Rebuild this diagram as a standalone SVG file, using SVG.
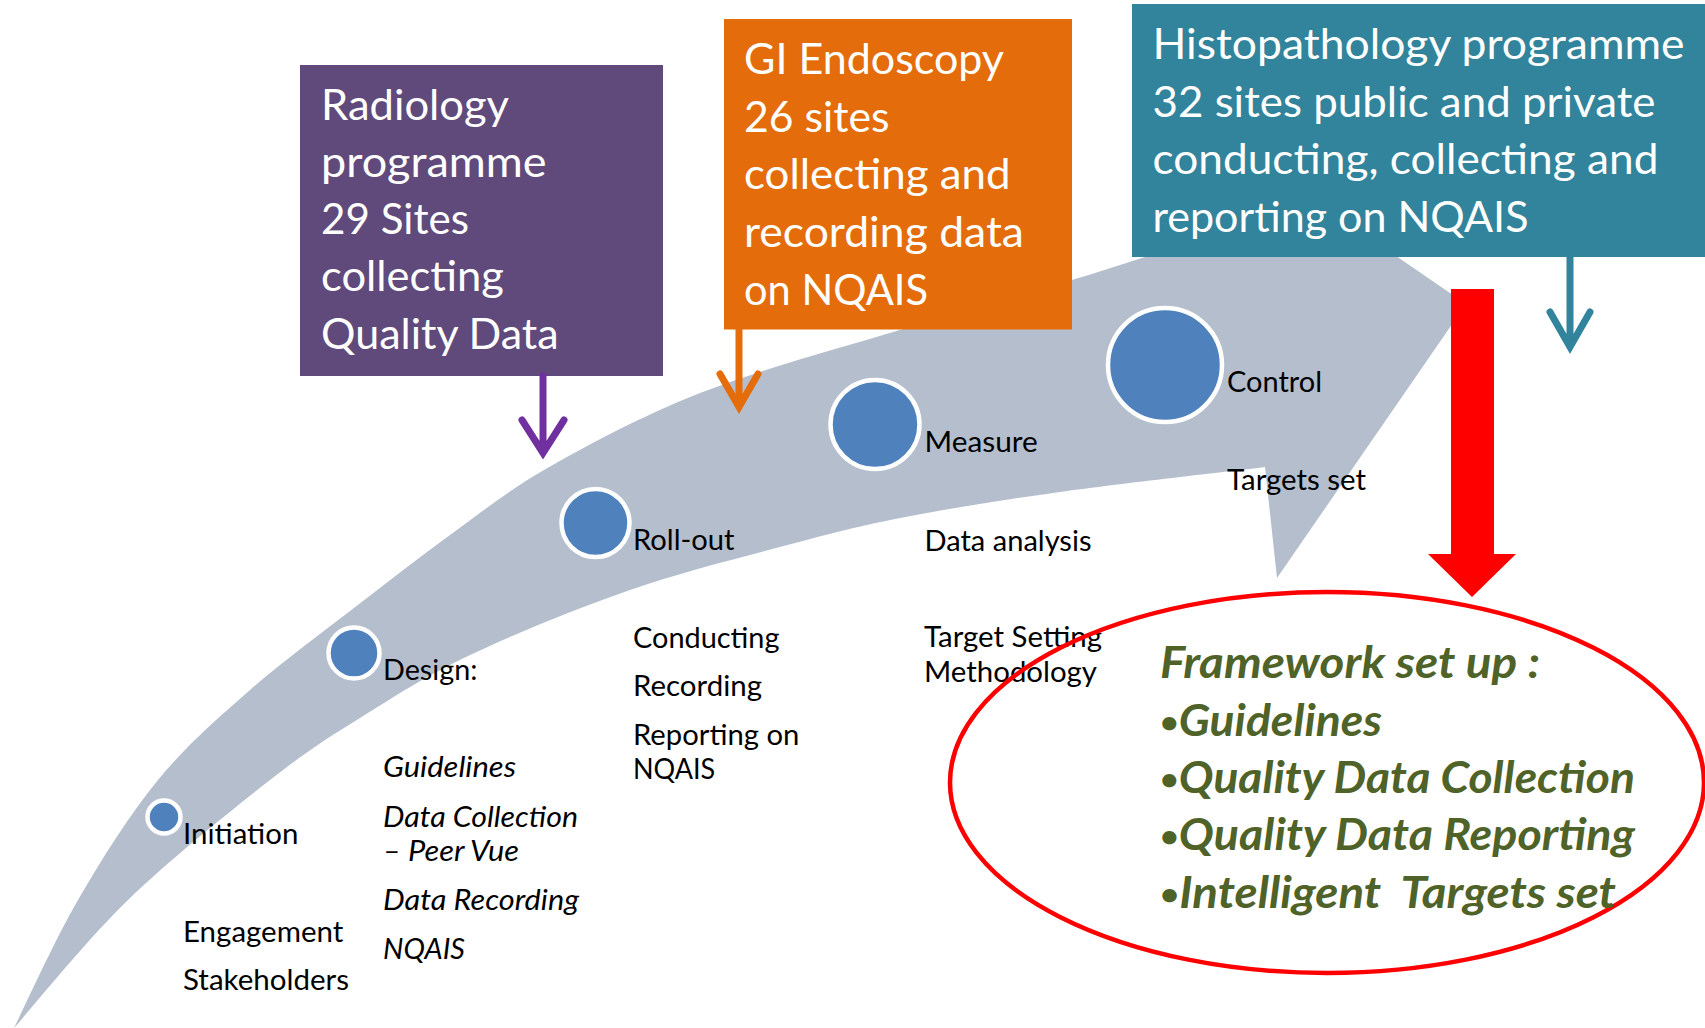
<svg xmlns="http://www.w3.org/2000/svg" width="1705" height="1028" viewBox="0 0 1705 1028">
<style>
.box{font-family:Lato,"Open Sans",sans-serif;font-size:42.3px;fill:#FFFFFF}
.lbl{font-family:Lato,"Open Sans",sans-serif;font-size:28.4px;fill:#000000}
.it{font-style:italic}
.fw{font-family:Lato,"Open Sans",sans-serif;font-size:43px;font-weight:bold;font-style:italic;fill:#4F6228}
.bul{font-size:30px}
.dot{fill:#4F81BD;stroke:#FFFFFF;stroke-width:4.5}
.open{fill:none;stroke-width:7;stroke-linecap:round;stroke-linejoin:miter}
</style>
<rect width="1705" height="1028" fill="#FFFFFF"/>
<g id="band">
<path fill="#B4BECC" d="M14,1028 C24.7,1006.7 54,941.3 78,900 C102,858.7 129.3,815 158,780 C186.7,745 217.3,718.7 250,690 C282.7,661.3 320.7,633.8 354,608 C387.3,582.2 418.3,558 450,535 C481.7,512 505.3,492.7 544,470 C585.7,446.3 640.7,416.3 700,393 C759.3,369.7 838,348.8 900,330 C962,311.2 1031.2,292.2 1072,280 C1112.8,267.8 1132.8,260.8 1145,257 L1230,228 L1300,190 L1466,304 L1277,578 L1265,467 C1230.8,471.2 1120.8,483.5 1060,492 C999.2,500.5 946.7,508.8 900,518 C853.3,527.2 825,535 780,547 C735,559 681.7,572 630,590 C578.3,608 515,633.7 470,655 C425,676.3 393.3,697.2 360,718 C326.7,738.8 308.7,749.7 270,780 C231.3,810.3 170.7,858.7 128,900 C85.3,941.3 33,1006.7 14,1028 Z"/>
</g>
<g id="initiation">
<circle class="dot" cx="164" cy="817" r="16.5"/>
<text class="lbl" x="183" y="844" textLength="115.4" lengthAdjust="spacingAndGlyphs">Initiation</text>
<text class="lbl" x="183" y="942" textLength="160.3" lengthAdjust="spacingAndGlyphs">Engagement</text>
<text class="lbl" x="183" y="990" textLength="166" lengthAdjust="spacingAndGlyphs">Stakeholders</text>
</g>
<g id="design">
<circle class="dot" cx="354" cy="653" r="25.5"/>
<text class="lbl" x="383" y="680" textLength="94.4" lengthAdjust="spacingAndGlyphs">Design:</text>
<text class="lbl it" x="383" y="777" textLength="133" lengthAdjust="spacingAndGlyphs">Guidelines</text>
<text class="lbl it" x="383" y="826.5" textLength="195" lengthAdjust="spacingAndGlyphs">Data Collection</text>
<text class="lbl it" x="383" y="860.5" textLength="136" lengthAdjust="spacingAndGlyphs">– Peer Vue</text>
<text class="lbl it" x="383" y="910" textLength="196" lengthAdjust="spacingAndGlyphs">Data Recording</text>
<text class="lbl it" x="383" y="959" textLength="82" lengthAdjust="spacingAndGlyphs">NQAIS</text>
</g>
<g id="rollout">
<circle class="dot" cx="595.5" cy="523" r="34"/>
<text class="lbl" x="633" y="550" textLength="101.5" lengthAdjust="spacingAndGlyphs">Roll-out</text>
<text class="lbl" x="633" y="647.5" textLength="146.5" lengthAdjust="spacingAndGlyphs">Conducting</text>
<text class="lbl" x="633" y="696" textLength="129" lengthAdjust="spacingAndGlyphs">Recording</text>
<text class="lbl" x="633" y="745" textLength="166.3" lengthAdjust="spacingAndGlyphs">Reporting on</text>
<text class="lbl" x="633" y="779" textLength="82.2" lengthAdjust="spacingAndGlyphs">NQAIS</text>
</g>
<g id="measure">
<circle class="dot" cx="875" cy="424.5" r="44.5"/>
<text class="lbl" x="924.5" y="452" textLength="113.2" lengthAdjust="spacingAndGlyphs">Measure</text>
<text class="lbl" x="924.5" y="550.5" textLength="167" lengthAdjust="spacingAndGlyphs">Data analysis</text>
<text class="lbl" x="924" y="647" textLength="178" lengthAdjust="spacingAndGlyphs">Target Setting</text>
<text class="lbl" x="924" y="682" textLength="173" lengthAdjust="spacingAndGlyphs">Methodology</text>
</g>
<g id="control">
<circle class="dot" cx="1165" cy="365" r="57"/>
<text class="lbl" x="1227" y="391.7" textLength="95" lengthAdjust="spacingAndGlyphs">Control</text>
<text class="lbl" x="1227" y="490" textLength="139" lengthAdjust="spacingAndGlyphs">Targets set</text>
</g>
<g id="radiology">
<rect x="300" y="65" width="363" height="311" fill="#604A7B"/>
<text class="box" x="321" y="120" textLength="188" lengthAdjust="spacingAndGlyphs">Radiology</text>
<text class="box" x="321" y="177" textLength="225.5" lengthAdjust="spacingAndGlyphs">programme</text>
<text class="box" x="321" y="234" textLength="148" lengthAdjust="spacingAndGlyphs">29 Sites</text>
<text class="box" x="321" y="291" textLength="183" lengthAdjust="spacingAndGlyphs">collecting</text>
<text class="box" x="321" y="349" textLength="237.7" lengthAdjust="spacingAndGlyphs">Quality Data</text>
</g>
<g id="gi-endoscopy">
<rect x="724" y="19" width="348" height="310.5" fill="#E46C0A"/>
<text class="box" x="744" y="74" textLength="260" lengthAdjust="spacingAndGlyphs">GI Endoscopy</text>
<text class="box" x="744" y="131.5" textLength="145.5" lengthAdjust="spacingAndGlyphs">26 sites</text>
<text class="box" x="744" y="189" textLength="266.5" lengthAdjust="spacingAndGlyphs">collecting and</text>
<text class="box" x="744" y="246.5" textLength="280" lengthAdjust="spacingAndGlyphs">recording data</text>
<text class="box" x="744" y="304.5" textLength="184" lengthAdjust="spacingAndGlyphs">on NQAIS</text>
</g>
<g id="histopathology">
<rect x="1132" y="4" width="573" height="253" fill="#31849B"/>
<text class="box" x="1152.5" y="58.5" textLength="532" lengthAdjust="spacingAndGlyphs">Histopathology programme</text>
<text class="box" x="1152.5" y="116.5" textLength="503" lengthAdjust="spacingAndGlyphs">32 sites public and private</text>
<text class="box" x="1152.5" y="173.5" textLength="506" lengthAdjust="spacingAndGlyphs">conducting, collecting and</text>
<text class="box" x="1152.5" y="231.5" textLength="376" lengthAdjust="spacingAndGlyphs">reporting on NQAIS</text>
</g>
<g id="connectors">
<path class="open" stroke="#7030A0" d="M543,376 L543,452 M522,420 L543,453 L564,420"/>
<path class="open" stroke="#E46C0A" d="M739,329 L739,406 M720,374 L739,407 L758,374"/>
<path class="open" stroke="#31849B" d="M1570,257 L1570,346 M1550,312 L1570,347 L1590,312"/>
<polygon fill="#FF0000" points="1451,289 1494,289 1494,554 1516,554 1472,597 1428,554 1451,554"/>
</g>
<g id="framework">
<ellipse cx="1327" cy="782.5" rx="377" ry="190.5" fill="none" stroke="#FF0000" stroke-width="4.5"/>
<text class="fw" x="1160" y="678" textLength="380" lengthAdjust="spacingAndGlyphs">Framework set up :</text>
<text class="fw" x="1160" y="736" textLength="222" lengthAdjust="spacingAndGlyphs"><tspan class="bul" dy="-3">•</tspan><tspan dy="3">Guidelines</tspan></text>
<text class="fw" x="1160" y="793" textLength="475" lengthAdjust="spacingAndGlyphs"><tspan class="bul" dy="-3">•</tspan><tspan dy="3">Quality Data Collection</tspan></text>
<text class="fw" x="1160" y="850" textLength="475" lengthAdjust="spacingAndGlyphs"><tspan class="bul" dy="-3">•</tspan><tspan dy="3">Quality Data Reporting</tspan></text>
<text class="fw" x="1160" y="908" textLength="456" lengthAdjust="spacingAndGlyphs" xml:space="preserve"><tspan class="bul" dy="-3">•</tspan><tspan dy="3">Intelligent  Targets set</tspan></text>
</g>
</svg>
